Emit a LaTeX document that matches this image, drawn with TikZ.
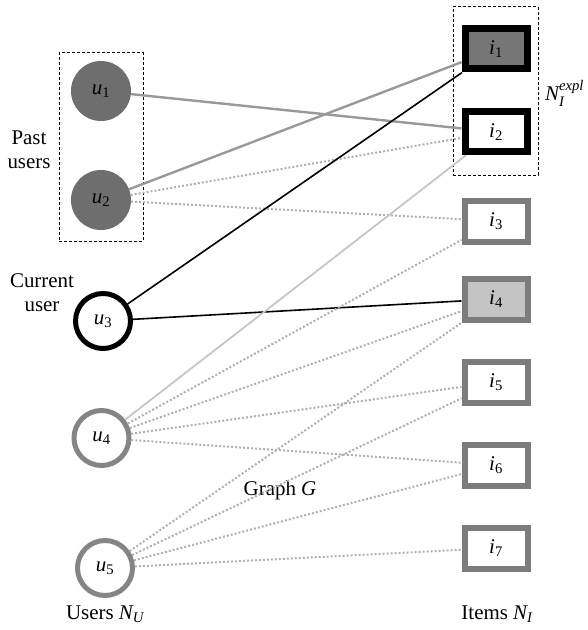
\documentclass[tikz,border=0pt]{standalone}
\usepackage{amsmath}
\usepackage{fontspec}
\setmainfont{Liberation Serif}
\newcommand\tv[2]{$\text{\itshape #1}_{\text{#2}}$}
\definecolor{pastfill}{HTML}{6E6E6E}
\definecolor{itemgray}{HTML}{7C7C7C}
\definecolor{ionefill}{HTML}{767676}
\definecolor{ifourfill}{HTML}{C4C4C4}
\definecolor{ringgray}{HTML}{858585}
\definecolor{edgegray}{HTML}{999999}
\definecolor{lightedge}{HTML}{C6C6C6}
\definecolor{dotedge}{HTML}{B0B0B0}
\begin{document}
\begin{tikzpicture}[x=1bp,y=-1bp,
  font=\fontsize{21}{24}\selectfont,
  pastu/.style={circle,fill=pastfill,minimum size=60bp,inner sep=0pt},
  curu/.style={circle,draw=black,line width=5bp,fill=white,minimum size=55bp,inner sep=0pt},
  otheru/.style={circle,draw=ringgray,line width=5bp,fill=white,minimum size=55bp,inner sep=0pt},
  explitem/.style={rectangle,draw=black,line width=7bp,minimum width=62bp,minimum height=40bp,inner sep=0pt},
  item/.style={rectangle,draw=itemgray,line width=6bp,fill=white,minimum width=63bp,minimum height=41bp,inner sep=0pt},
  groupbox/.style={draw=black,line width=1bp,dash pattern=on 3bp off 2bp},
  strongedge/.style={draw=edgegray,line width=2.4bp},
  curedge/.style={draw=black,line width=1.6bp},
  weakedge/.style={draw=lightedge,line width=1.8bp},
  dotlink/.style={draw=dotedge,line width=2bp,dash pattern=on 2bp off 2bp},
  lbl/.style={align=center,inner sep=0pt}
]
\useasboundingbox (0,0) rectangle (588,630);

% group boxes
\node[groupbox,minimum width=84bp,minimum height=188bp,inner sep=0pt] (pastbox) at (101,147) {};
\node[groupbox,minimum width=85bp,minimum height=168bp,inner sep=0pt] (explbox) at (495.5,91) {};

% users
\node[pastu] (u1) at (101,91) {\tv{u}{1}};
\node[pastu] (u2) at (101,200) {\tv{u}{2}};
\node[curu] (u3) at (103,321) {\tv{u}{3}};
\node[otheru] (u4) at (101.5,438) {\tv{u}{4}};
\node[otheru] (u5) at (105,568) {\tv{u}{5}};

% items
\node[explitem,fill=ionefill] (i1) at (496,49) {\tv{i}{1}};
\node[explitem,fill=white] (i2) at (496,132) {\tv{i}{2}};
\node[item] (i3) at (496,221) {\tv{i}{3}};
\node[item,fill=ifourfill] (i4) at (496,299) {\tv{i}{4}};
\node[item] (i5) at (496,382) {\tv{i}{5}};
\node[item] (i6) at (496,465) {\tv{i}{6}};
\node[item] (i7) at (496,548) {\tv{i}{7}};

% labels
\node[lbl] (pastlbl) at (29,150) {Past\\users};
\node[lbl] (curlbl) at (42,293) {Current\\user};
\node[lbl] (glbl) at (280,490) {Graph \textit{G}};
\node[lbl] (ulbl) at (105,614) {Users $\text{\itshape N}_{\text{\itshape U}}$};
\node[lbl] (ilbl) at (497,614) {Items $\text{\itshape N}_{\text{\itshape I}}$};
\node[lbl,anchor=west] (explbl) at (545,93) {$\text{\itshape N}_{\text{\itshape I}}^{\text{\itshape expl}}$};

% edges
\draw[strongedge] (u1) -- (i2);
\draw[strongedge] (u2) -- (i1);
\draw[dotlink] (u2) -- (i2);
\draw[dotlink] (u2) -- (i3);
\draw[curedge] (u3) -- (i1);
\draw[curedge] (u3) -- (i4);
\draw[weakedge] (u4) -- (i2);
\draw[dotlink] (u4) -- (i3);
\draw[dotlink] (u4) -- (i4);
\draw[dotlink] (u4) -- (i5);
\draw[dotlink] (u4) -- (i6);
\draw[dotlink] (u5) -- (i4);
\draw[dotlink] (u5) -- (i5);
\draw[dotlink] (u5) -- (i6);
\draw[dotlink] (u5) -- (i7);
\end{tikzpicture}
\end{document}
